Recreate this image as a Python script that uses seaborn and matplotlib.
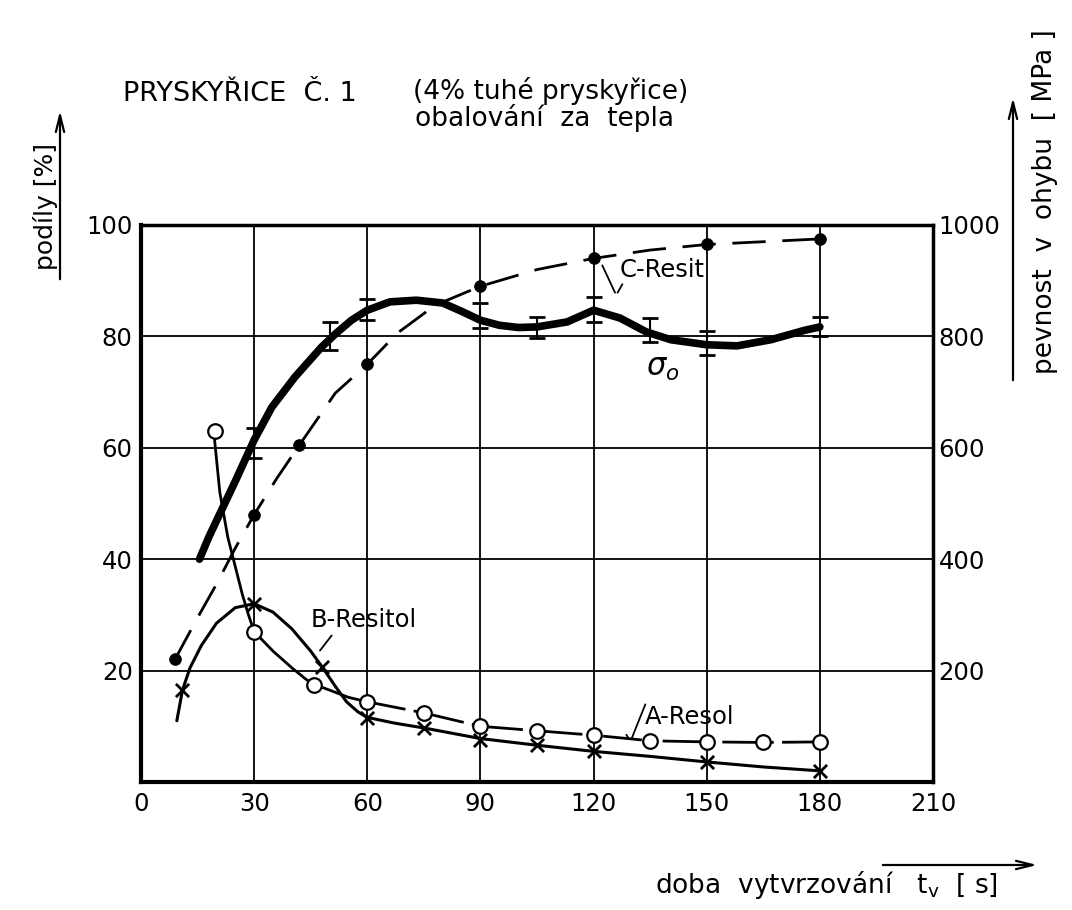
import numpy as np
import pandas as pd
import matplotlib
matplotlib.use("Agg")
import matplotlib.pyplot as plt
import seaborn as sns
from matplotlib.patches import FancyArrowPatch

# ---------------- data ----------------
x_ticks = [0, 30, 60, 90, 120, 150, 180, 210]
y_left_ticks = [20, 40, 60, 80, 100]
y_right_ticks = [200, 400, 600, 800, 1000]

# C - Resit  (podíly %), measured points
c_x = [9, 30, 42, 60, 90, 120, 150, 180]
c_y = [22, 48, 60.5, 75, 89, 94, 96.5, 97.5]
# C - Resit curve trace
c_curve_x = [9, 15, 20, 25, 30, 36, 42, 51.5, 60, 68, 78, 90, 105, 120, 135, 150, 165, 180]
c_curve_y = [22, 29.5, 35.5, 42, 48, 54.5, 60.5, 69.8, 75, 80.6, 85.6, 89, 92, 94, 95.5, 96.5, 97, 97.5]

# B - Resitol (podíly %), measured points
b_x = [11, 30, 48, 60, 75, 90, 105, 120, 150, 180]
b_y = [16.5, 32, 20.7, 11.5, 9.7, 7.6, 6.6, 5.5, 3.6, 2.0]
b_curve_x = [9.5, 11, 13, 16, 20, 25, 30, 35, 40, 45, 48, 51.5, 54.5, 57.5, 60, 67, 75, 90,
             105, 120, 135, 150, 165, 180]
b_curve_y = [11, 16.5, 20.5, 24.5, 28.5, 31.3, 32, 30.5, 27.5, 23.5, 20.7, 17.2, 14.4, 12.6,
             11.6, 10.6, 9.7, 7.8, 6.6, 5.5, 4.6, 3.6, 2.7, 2.0]

# A - Resol (podíly %), measured points
a_x = [19.5, 30, 46, 60, 75, 90, 105, 120, 135, 150, 165, 180]
a_y = [63, 27, 17.5, 14.4, 12.4, 10, 9.2, 8.4, 7.3, 7.2, 7.1, 7.2]
a_curve1_x = [19.5, 20.9, 23, 26.9, 28.5, 30, 35, 40, 44, 46, 50, 55, 60]
a_curve1_y = [61.5, 52, 44, 33.6, 30, 27, 23.5, 20.5, 18.3, 17.5, 16.5, 15.2, 14.4]
a_curve2_x = [60, 75, 90, 105, 120, 135, 150, 165, 180]
a_curve2_y = [14.4, 12.4, 10, 9.2, 8.4, 7.4, 7.2, 7.1, 7.2]

# sigma_o  - pevnost v ohybu (MPa), curve trace
s_curve_x = [15.5, 18, 21, 25, 30, 34.7, 40.8, 47.9, 51.8, 55.8, 60, 66, 73, 80, 85, 90, 95,
             100, 105, 113, 120, 127, 134, 140.5, 150, 158, 167, 176, 180]
s_curve_y = [400, 440, 483, 540, 614, 673, 727, 781, 806, 829, 847, 862, 865, 860, 845, 829, 820,
             816, 817, 826, 847, 833, 808, 794, 785, 783, 794, 811, 817]
# sigma_o error bars (MPa)
eb_x = [30, 50, 60, 90, 105, 120, 135, 150, 180]
eb_lo = [582, 775, 830, 815, 797, 825, 790, 767, 800]
eb_hi = [635, 825, 867, 860, 835, 870, 833, 810, 835]

# ---------------- style ----------------
sns.set_style("white")
plt.rcParams['font.family'] = ['DejaVu Sans']
plt.rcParams['mathtext.fontset'] = 'dejavusans'
plt.rcParams['text.color'] = 'black'

W, H = 1072, 910
fig = plt.figure(figsize=(W / 100, H / 100), dpi=100)
ax = fig.add_axes([141 / W, 1 - 782 / H, (933 - 141) / W, (782 - 225) / H])
ax2 = ax.twinx()

ax.set_xlim(0, 210)
ax.set_ylim(0, 100)
ax2.set_ylim(0, 1000)

ax.set_xticks(x_ticks)
ax.set_xticklabels([str(v) for v in x_ticks])
ax.set_yticks(y_left_ticks)
ax.set_yticklabels([str(v) for v in y_left_ticks])
ax2.set_yticks(y_right_ticks)
ax2.set_yticklabels([str(v) for v in y_right_ticks])

ax.grid(True, color='black', linewidth=1.3)
ax2.grid(False)
ax.set_axisbelow(True)

for a in (ax, ax2):
    a.tick_params(length=0, labelsize=17.5, colors='black')
ax.tick_params(axis='x', pad=7)
ax.tick_params(axis='y', pad=6)
ax2.tick_params(axis='y', pad=4)

for name, sp in ax.spines.items():
    sp.set_color('black')
    sp.set_linewidth(3 if name in ('left', 'bottom') else 2.5)
for sp in ax2.spines.values():
    sp.set_visible(False)

# ---------------- C - Resit (dashed, filled dots) ----------------
sns.lineplot(x=c_curve_x, y=c_curve_y, ax=ax, color='black', linewidth=2,
             sort=False, estimator=None)
ax.lines[-1].set_dashes((12, 6))
sns.scatterplot(x=c_x, y=c_y, ax=ax, color='black', s=70, marker='o',
                edgecolor='black', zorder=5)

# ---------------- B - Resitol (solid, x markers) ----------------
sns.lineplot(x=b_curve_x, y=b_curve_y, ax=ax, color='black', linewidth=2.2,
             sort=False, estimator=None)
sns.scatterplot(x=b_x, y=b_y, ax=ax, color='black', s=90, marker='x',
                linewidth=2, zorder=5)

# ---------------- A - Resol (solid then dash-dot, open circles) ----------------
sns.lineplot(x=a_curve1_x, y=a_curve1_y, ax=ax, color='black', linewidth=2,
             sort=False, estimator=None)
sns.lineplot(x=a_curve2_x, y=a_curve2_y, ax=ax, color='black', linewidth=2,
             sort=False, estimator=None)
ax.lines[-1].set_dashes((14, 3, 1.5, 3))
sns.scatterplot(x=a_x, y=a_y, ax=ax, s=110, marker='o', facecolor='white',
                edgecolor='black', linewidth=1.6, zorder=6)

# ---------------- sigma_o (thick, right axis) ----------------
sns.lineplot(x=s_curve_x, y=s_curve_y, ax=ax2, color='black', linewidth=5.5,
             sort=False, estimator=None)
mid = [(lo + hi) / 2 for lo, hi in zip(eb_lo, eb_hi)]
err = [(hi - lo) / 2 for lo, hi in zip(eb_lo, eb_hi)]
ax2.errorbar(eb_x, mid, yerr=err, fmt='none', ecolor='black', elinewidth=1.5,
             capsize=6, capthick=2)

# ---------------- annotations ----------------
fs = 17.5
ax.text(127, 92, "C-Resit", fontsize=fs, ha='left', va='center', color='black')
ax.annotate("", xy=(126, 87.4), xytext=(122, 93.2),
            arrowprops=dict(arrowstyle='-', color='black', lw=1.3))
ax.annotate("", xy=(126, 87.4), xytext=(128, 89.8),
            arrowprops=dict(arrowstyle='-', color='black', lw=1.3))

ax.text(134, 74.2, r"$\sigma_o$", fontsize=22, ha='left', va='center', color='black')

ax.text(45, 29, "B-Resitol", fontsize=fs, ha='left', va='center', color='black')
ax.annotate("", xy=(47, 23.2), xytext=(51, 26.7),
            arrowprops=dict(arrowstyle='-', color='black', lw=1.3))

ax.text(133.5, 11.7, "A-Resol", fontsize=fs, ha='left', va='center', color='black')
ax.annotate("", xy=(129.8, 7.3), xytext=(128.3, 8.9),
            arrowprops=dict(arrowstyle='-', color='black', lw=1.3))
ax.annotate("", xy=(129.8, 7.3), xytext=(134, 14.4),
            arrowprops=dict(arrowstyle='-', color='black', lw=1.3))

# ---------------- titles and axis labels ----------------
fig.text(123 / W, 1 - 94 / H, "PRYSKYŘICE  Č. 1", fontsize=19.5, ha='left', va='center',
         color='black')
fig.text(413 / W, 1 - 91 / H, "(4% tuhé pryskyřice)", fontsize=19, ha='left', va='center',
         color='black')
fig.text(415 / W, 1 - 118 / H, "obalování  za  tepla", fontsize=19, ha='left', va='center',
         color='black')

fig.text(45 / W, 1 - 207 / H, "podíly [%]", fontsize=18, rotation=90,
         ha='center', va='center', color='black')
fig.text(1045 / W, 1 - 202 / H, "pevnost  v  ohybu  [ MPa ]", fontsize=19, rotation=90,
         ha='center', va='center', color='black')
fig.text(655 / W, 1 - 885 / H, r"doba  vytvrzování   t$_\mathregular{v}$  [ s]", fontsize=19,
         ha='left', va='center', color='black')

def fig_arrow(x0, y0, x1, y1):
    p = FancyArrowPatch((x0 / W, 1 - y0 / H), (x1 / W, 1 - y1 / H),
                        transform=fig.transFigure, arrowstyle='->,head_length=12,head_width=3',
                        color='black', lw=1.6, mutation_scale=1)
    fig.add_artist(p)

fig_arrow(60, 282, 60, 108)
fig_arrow(1013, 383, 1013, 95)
fig_arrow(880, 865, 1040, 865)

fig.savefig("out.png", dpi=100, facecolor='white')
